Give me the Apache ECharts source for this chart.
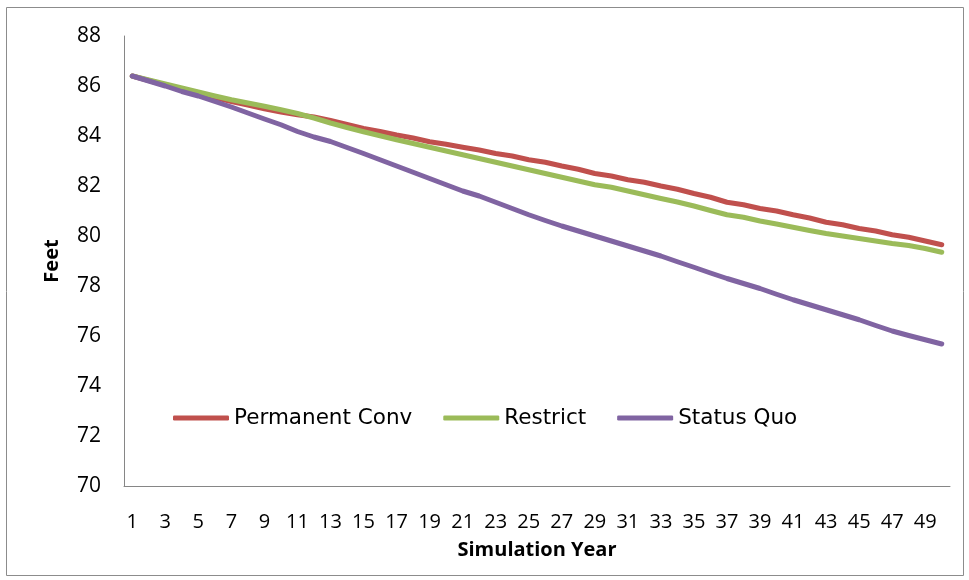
<!DOCTYPE html>
<html>
<head>
<meta charset="utf-8">
<script src="https://cdn.jsdelivr.net/npm/echarts@6/dist/echarts.min.js"></script>
<style>
html,body{margin:0;padding:0;background:#fff;}
#chart{width:969px;height:580px;}
</style>
</head>
<body>
<div id="chart"></div>
<script>
var years = [];
for (var y = 1; y <= 50; y++) years.push(String(y));

var permanentConv = [86.40,86.22,86.04,85.86,85.70,85.54,85.38,85.24,85.09,84.96,
  84.85,84.76,84.62,84.46,84.30,84.18,84.04,83.92,83.77,83.67,
  83.55,83.44,83.30,83.20,83.05,82.95,82.80,82.67,82.50,82.40,
  82.25,82.15,82.00,81.87,81.70,81.55,81.35,81.25,81.10,81.00,
  80.85,80.72,80.55,80.45,80.30,80.20,80.05,79.95,79.80,79.65];

var restrict = [86.40,86.24,86.08,85.92,85.76,85.60,85.45,85.32,85.19,85.05,
  84.90,84.72,84.52,84.34,84.17,84.01,83.85,83.70,83.55,83.40,
  83.25,83.10,82.95,82.80,82.65,82.50,82.35,82.20,82.05,81.95,
  81.80,81.65,81.50,81.36,81.20,81.02,80.85,80.75,80.60,80.48,
  80.35,80.22,80.10,80.00,79.90,79.80,79.70,79.62,79.50,79.35];

var statusQuo = [86.40,86.20,86.00,85.78,85.60,85.38,85.16,84.92,84.68,84.45,
  84.18,83.96,83.78,83.54,83.30,83.05,82.80,82.55,82.30,82.05,
  81.80,81.60,81.35,81.10,80.85,80.62,80.40,80.20,80.00,79.80,
  79.60,79.40,79.20,78.97,78.75,78.52,78.30,78.10,77.90,77.67,
  77.45,77.25,77.05,76.85,76.65,76.42,76.20,76.02,75.85,75.68];

var seriesNames = ['Permanent Conv', 'Restrict', 'Status Quo'];
var seriesColors = ['#C0504D', '#9BBB59', '#8064A2'];
var seriesData = [permanentConv, restrict, statusQuo];

var font = 'Open Sans';
var chart = echarts.init(document.getElementById('chart'));
chart.setOption({
  animation: false,
  backgroundColor: '#fff',
  graphic: [{
    type: 'rect', shape: {x: 6.5, y: 7.5, width: 957, height: 568},
    style: {fill: 'none', stroke: '#8c8c8c', lineWidth: 1}, silent: true, z: -1
  }],
  grid: {left: 124, right: 19, top: 36, bottom: 94},
  legend: {
    left: 168, top: 402,
    itemWidth: 56, itemHeight: 5, itemGap: 31,
    icon: 'roundRect',
    textStyle: {fontFamily: 'DejaVu Sans', fontSize: 21.5, color: '#000'},
    data: seriesNames
  },
  xAxis: {
    type: 'category',
    data: years,
    boundaryGap: true,
    name: 'Simulation Year',
    nameLocation: 'middle',
    nameGap: 54,
    nameTextStyle: {fontFamily: font, fontSize: 20, fontWeight: 'bold', color: '#000'},
    axisLine: {lineStyle: {color: '#868686', width: 1}},
    axisTick: {show: false},
    axisLabel: {interval: 1, margin: 26, fontFamily: font, fontSize: 20, color: '#000'},
    splitLine: {show: false}
  },
  yAxis: {
    type: 'value',
    min: 70, max: 88, interval: 2,
    name: 'Feet',
    nameLocation: 'middle',
    nameGap: 62,
    nameRotate: 90,
    nameTextStyle: {fontFamily: font, fontSize: 20, fontWeight: 'bold', color: '#000'},
    axisLine: {show: true, lineStyle: {color: '#868686', width: 1}},
    axisTick: {show: false},
    axisLabel: {margin: 23, fontFamily: font, fontSize: 21, color: '#000'},
    splitLine: {show: false}
  },
  series: seriesNames.map(function (n, i) {
    return {
      name: n, type: 'line', data: seriesData[i],
      symbol: 'none', smooth: false,
      lineStyle: {color: seriesColors[i], width: 5, cap: 'round', join: 'round'},
      itemStyle: {color: seriesColors[i]}
    };
  })
});
</script>
</body>
</html>
